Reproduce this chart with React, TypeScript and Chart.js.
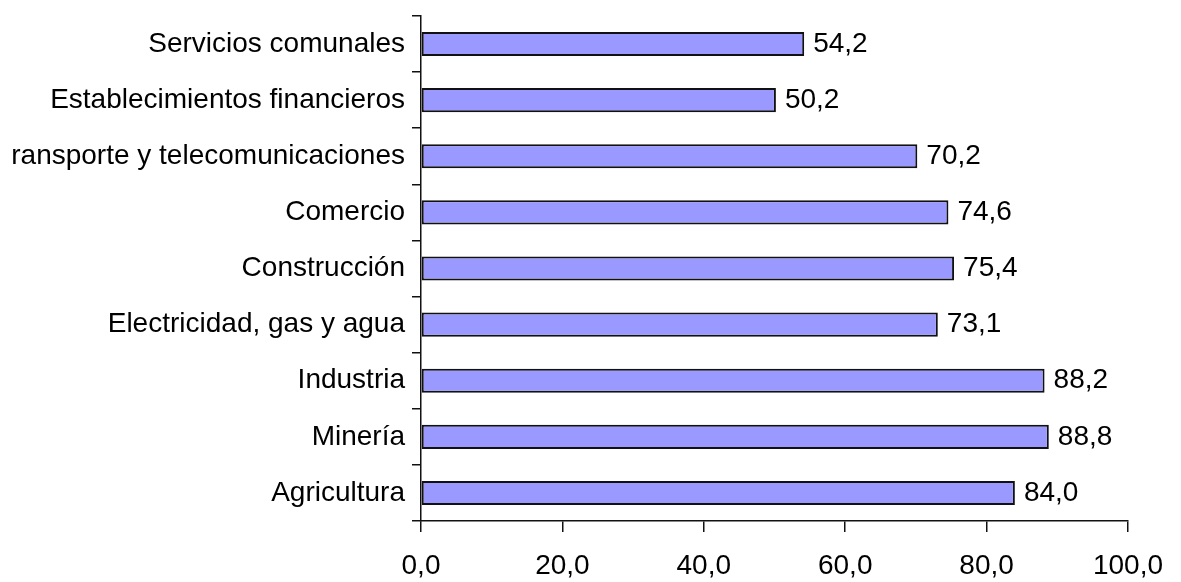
import React, { useEffect, useRef } from "react";
import { Chart, registerables } from "chart.js";

Chart.register(...registerables);

const categories = [
  "Servicios comunales",
  "Establecimientos financieros",
  "Transporte y telecomunicaciones",
  "Comercio",
  "Construcción",
  "Electricidad, gas y agua",
  "Industria",
  "Minería",
  "Agricultura",
];
const values = [54.2, 50.2, 70.2, 74.6, 75.4, 73.1, 88.2, 88.8, 84.0];
const xTicks = [0, 20, 40, 60, 80, 100];

const FONT = "'Liberation Sans', Arial, sans-serif";
const fmt = (v: number) => v.toFixed(1).replace(".", ",");
const CLIP = 13;

const valueLabels = {
  id: "valueLabels",
  afterDatasetsDraw(chart: any) {
    const ctx = chart.ctx;
    const meta = chart.getDatasetMeta(0);
    ctx.save();
    ctx.font = `28px ${FONT}`;
    ctx.fillStyle = "#000";
    ctx.textAlign = "left";
    ctx.textBaseline = "middle";
    meta.data.forEach((bar: any, i: number) => {
      ctx.fillText(fmt(values[i]), bar.x + 9, bar.y);
    });
    ctx.restore();
  },
};

export default function App() {
  const ref = useRef<HTMLCanvasElement | null>(null);
  useEffect(() => {
    if (!ref.current) return;
    const chart = new Chart(ref.current, {
      type: "bar",
      data: {
        labels: categories,
        datasets: [
          {
            data: values,
            backgroundColor: "#9999FF",
            borderColor: "#111",
            borderWidth: 2,
            borderSkipped: false,
            barPercentage: 0.43,
            categoryPercentage: 1,
          },
        ],
      },
      options: {
        indexAxis: "y",
        animation: false,
        responsive: false,
        maintainAspectRatio: false,
        layout: { padding: { left: 0, top: 16, right: 53, bottom: 0 } },
        plugins: {
          legend: { display: false },
          tooltip: { enabled: false },
        },
        scales: {
          x: {
            min: 0,
            max: 100,
            afterBuildTicks: (scale: any) => {
              scale.ticks = xTicks.map((v) => ({ value: v }));
            },
            afterFit: (scale: any) => {
              scale.height = 61;
            },
            grid: {
              drawOnChartArea: false,
              drawTicks: true,
              tickLength: 11,
              color: "#111",
              lineWidth: 1.5,
            },
            border: { display: true, color: "#111", width: 1.5 },
            ticks: {
              padding: 17,
              color: "#000",
              font: { family: FONT, size: 28 },
              maxRotation: 0,
              callback: (v: any) => fmt(Number(v)),
            },
          },
          y: {
            afterFit: (scale: any) => {
              scale.width = 421;
              scale.paddingTop = 0;
              scale.paddingBottom = 0;
            },
            grid: {
              offset: true,
              drawOnChartArea: false,
              drawTicks: true,
              tickLength: 9,
              color: "#111",
              lineWidth: 1.5,
            },
            border: { display: true, color: "#111", width: 1.5 },
            ticks: {
              padding: 7,
              color: "#000",
              font: { family: FONT, size: 28 },
              autoSkip: false,
            },
          },
        },
      },
      plugins: [valueLabels],
    });
    return () => chart.destroy();
  }, []);

  return (
    <div
      style={{
        position: "absolute",
        left: CLIP,
        top: 0,
        width: 1181 - CLIP,
        height: 582,
        background: "#fff",
        overflow: "hidden",
      }}
    >
      <canvas
        ref={ref}
        width={1181}
        height={582}
        style={{ display: "block", position: "absolute", left: -CLIP, top: 0 }}
      />
    </div>
  );
}
